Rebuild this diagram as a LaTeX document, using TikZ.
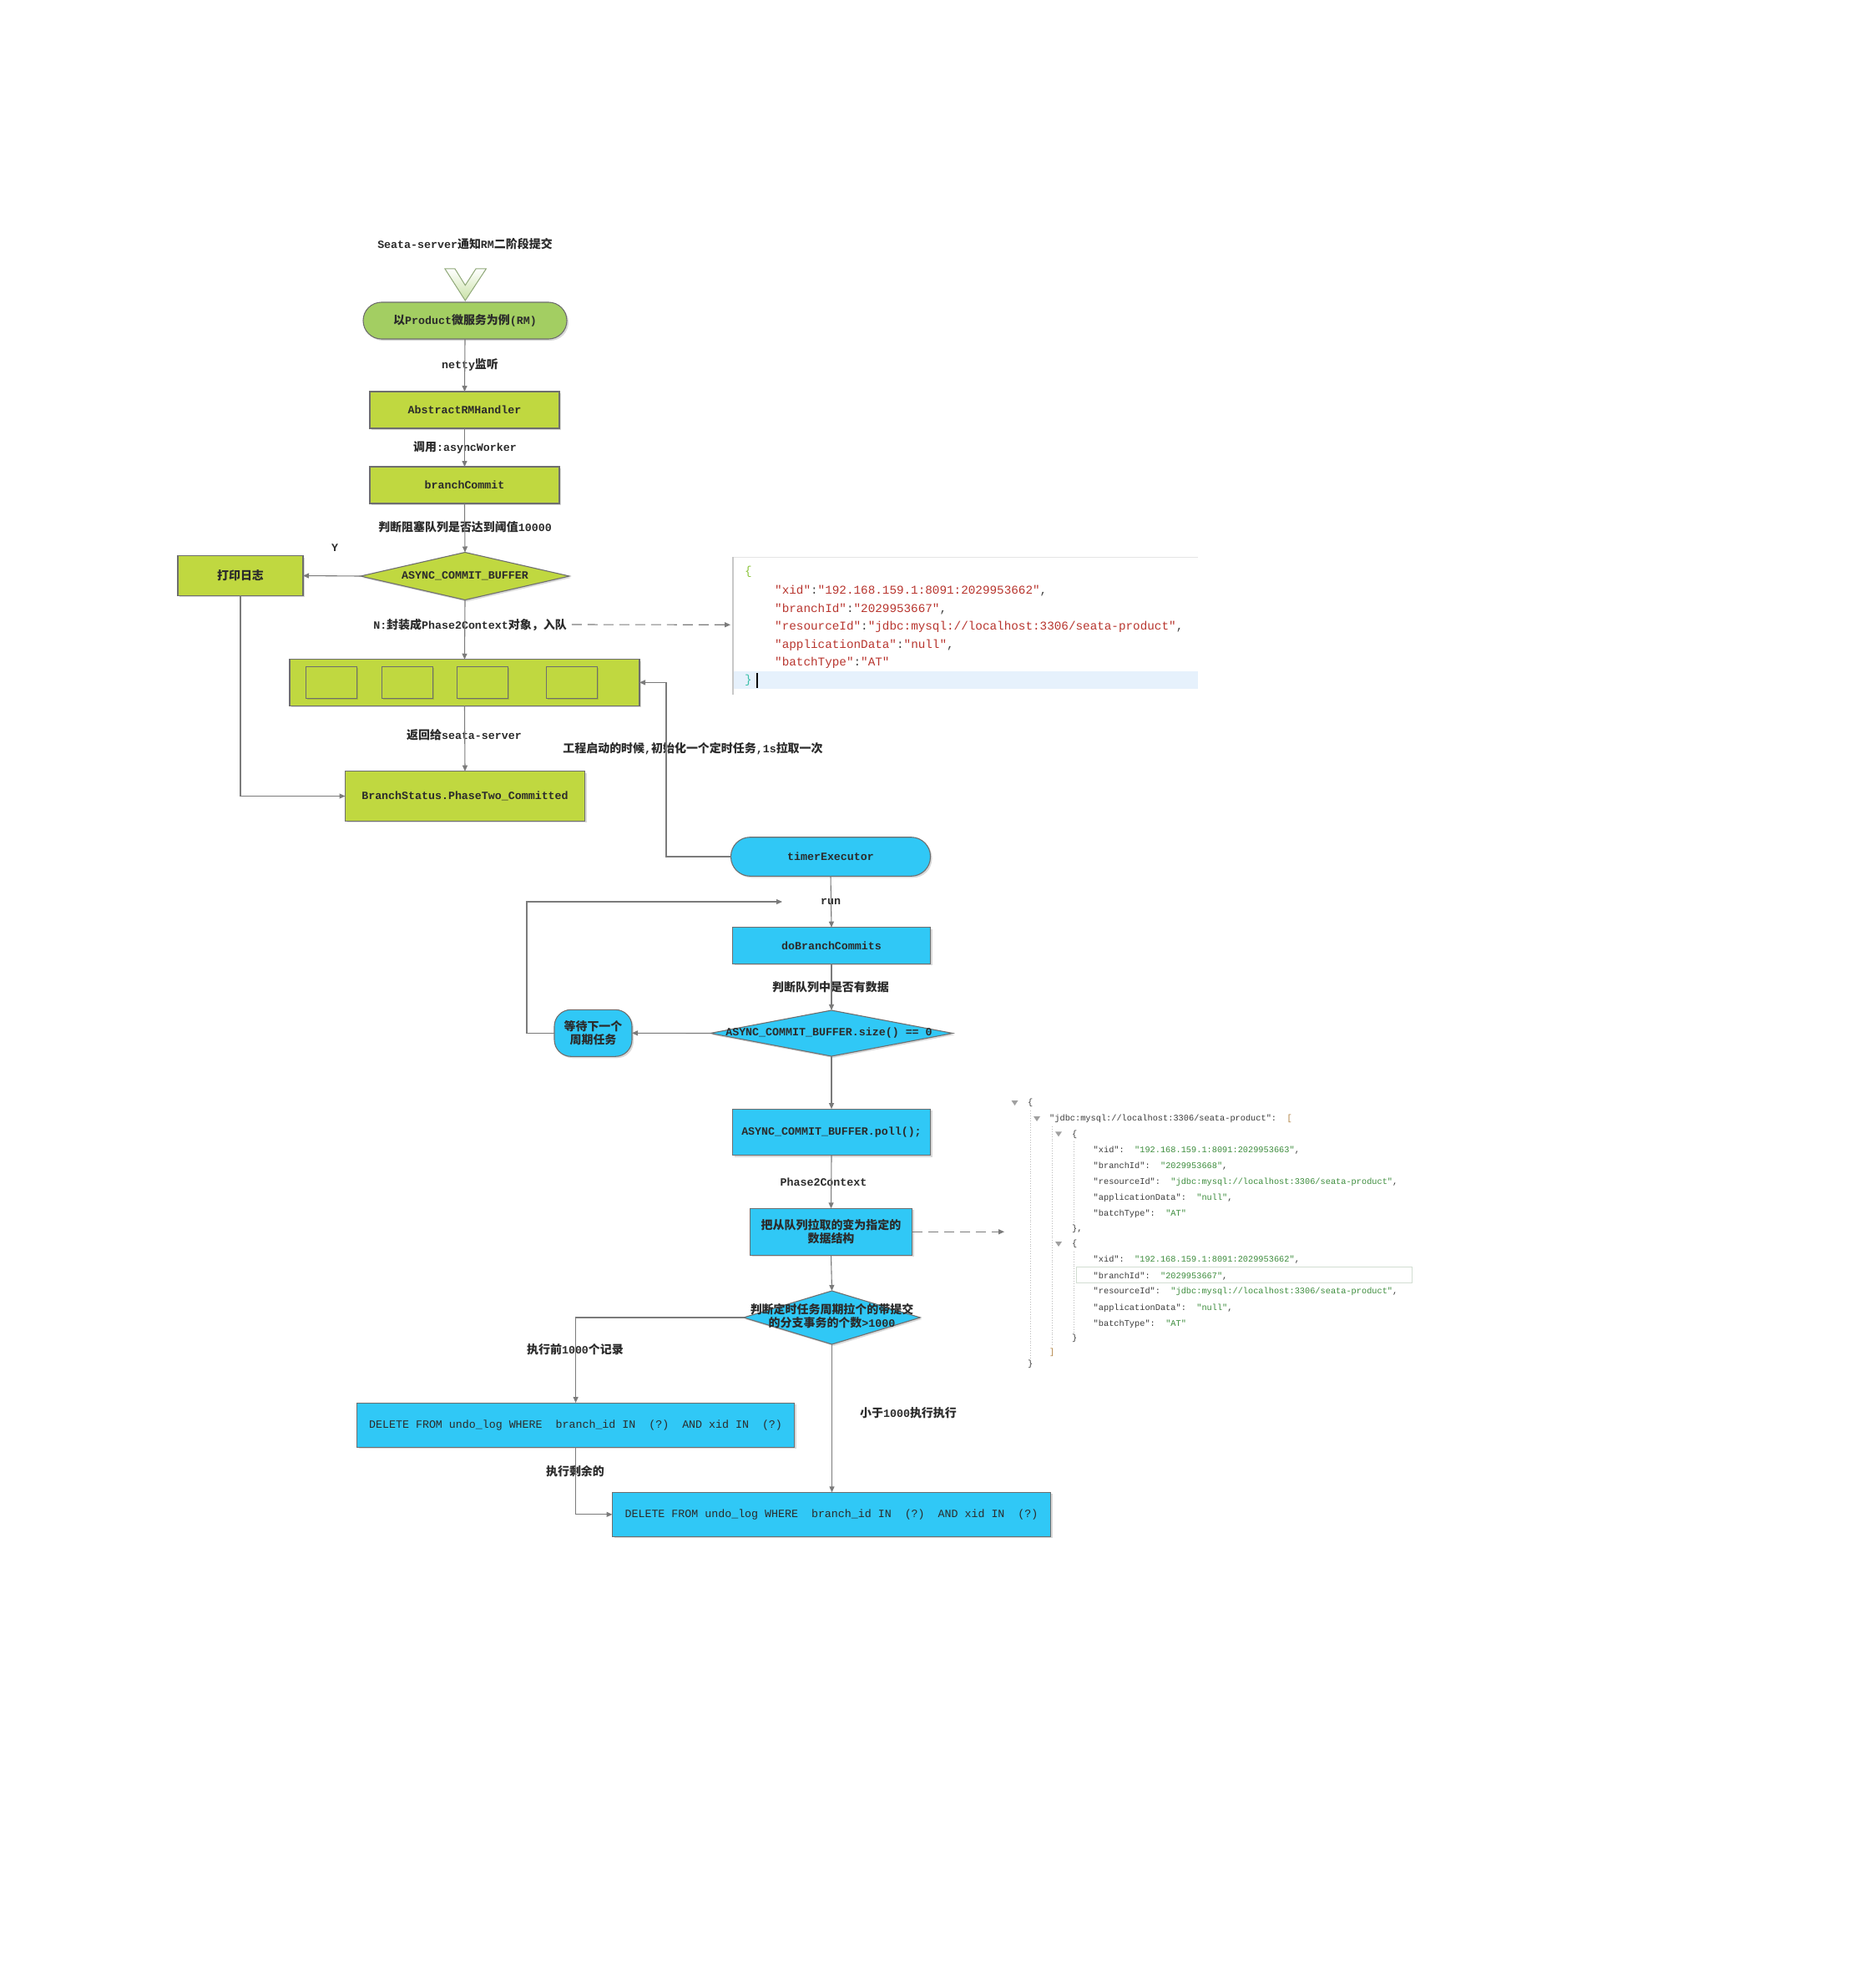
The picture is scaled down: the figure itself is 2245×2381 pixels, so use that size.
\documentclass[tikz,border=0pt]{standalone}
\usepackage{fontspec}
\setmainfont{Liberation Mono}
\newfontfamily\cjk{Noto Sans CJK SC}[Scale=1.05]
\newfontfamily\jsonfont{Liberation Mono}
\usetikzlibrary{arrows.meta,shapes.geometric,shadows}
\newcommand\zh[1]{{\cjk #1}}
\newcommand\lbl{\fontsize{13.3}{16}\selectfont\bfseries}
\definecolor{lgreen}{HTML}{C0D840}
\definecolor{tgreen}{HTML}{A3CE62}
\definecolor{cyanb}{HTML}{30C8F6}
\definecolor{bord}{HTML}{6E6E6E}
\definecolor{conncol}{HTML}{7B7B7B}
\definecolor{txt}{HTML}{2B2B2B}
\definecolor{chevb}{HTML}{8FA878}
\definecolor{chevg}{HTML}{C9E2A6}
\definecolor{jred}{HTML}{B8352E}
\definecolor{jpun}{HTML}{444444}
\definecolor{jbra}{HTML}{8CC43C}
\definecolor{jbrb}{HTML}{3CBFA8}
\definecolor{jhl}{HTML}{E6F1FC}
\definecolor{jline}{HTML}{E4E4E4}
\definecolor{jleft}{HTML}{C8C8C8}
\definecolor{jkey}{HTML}{3A3A3A}
\definecolor{jval}{HTML}{3C8C3C}
\definecolor{jbrk}{HTML}{B08040}
\definecolor{jtri}{HTML}{A0A0A0}
\definecolor{jguide}{HTML}{BBBBBB}
\definecolor{jhb}{HTML}{D2DED2}
\newcommand\jr[1]{\textcolor{jred}{#1}}
\newcommand\jp[1]{\textcolor{jpun}{#1}}
\newcommand\jk[1]{\textcolor{jkey}{#1}}
\newcommand\jv[1]{\textcolor{jval}{#1}}
\newcommand\jtri[2]{\fill[jtri] (#1-4,#2-3) -- (#1+4,#2-3) -- (#1,#2+3) -- cycle;}
\begin{document}
\begin{tikzpicture}[x=1pt,y=-1pt,
  box/.style={draw=bord, line width=1.1pt, outer sep=0pt, inner sep=0pt, text=txt, font=\lbl, align=center,
    drop shadow={shadow xshift=2pt, shadow yshift=-2pt, opacity=0.15, fill=black}},
  gbox/.style={box, fill=lgreen},
  bbox/.style={box, fill=cyanb},
  diam/.style={box, diamond},
  qsq/.style={draw=bord, line width=1pt, fill=lgreen, inner sep=0pt, outer sep=0pt, minimum width=61pt, minimum height=37.6pt,
    drop shadow={shadow xshift=1.5pt, shadow yshift=-1.5pt, opacity=0.12, fill=black}},
  lab/.style={text=txt, font=\lbl, inner sep=0pt, align=center},
  conn/.style={draw=conncol, line width=1.1pt, -{Triangle[length=7pt,width=6pt]}},
  dconn/.style={conn, dash pattern=on 12pt off 7pt},
  jt1/.style={anchor=west, inner sep=0pt, font=\fontsize{14.3}{17}\selectfont\jsonfont, text height=10pt, text depth=3pt},
  jt2/.style={anchor=west, inner sep=0pt, font=\fontsize{10.3}{12}\selectfont\jsonfont, text height=7.5pt, text depth=2pt},
  jg/.style={draw=jguide, dotted, line width=0.9pt}
]
\useasboundingbox (0,0) rectangle (2245,2381);
\fill[white] (0,0) rectangle (2245,2381);

% ---------- top part (green) ----------
\node[lab] (title) at (557,292) {Seata-server\zh{通知}RM\zh{二阶段提交}};
\path[draw=chevb, line width=1pt, top color=white, bottom color=chevg]
  (533,322) -- (545,322) -- (557.3,341.7) -- (570,322) -- (582.3,322) -- (557.3,360) -- cycle;

\node[box, fill=tgreen, rounded corners=22pt, minimum width=244pt, minimum height=44pt] (term) at (557,384)
  {\zh{以}Product\zh{微服务为例}(RM)};
\node[gbox, minimum width=227pt, minimum height=44pt] (arh) at (556.5,491) {AbstractRMHandler};
\node[gbox, minimum width=227pt, minimum height=44pt] (bc) at (556.5,581) {branchCommit};
\node[diam, fill=lgreen, minimum width=250pt, minimum height=57pt] (d1) at (557,690) {};
\node[lab] (d1t) at (d1) {ASYNC\_COMMIT\_BUFFER};
\node[gbox, minimum width=150pt, minimum height=47.6pt] (pl) at (288,689.5) {\zh{打印日志}};
\node[gbox, minimum width=419pt, minimum height=55.3pt] (queue) at (556.5,817.4) {};
\node[qsq] (q1) at (397.1,817.5) {};
\node[qsq] (q2) at (488,817.5) {};
\node[qsq] (q3) at (577.9,817.5) {};
\node[qsq] (q4) at (684.9,817.5) {};
\node[gbox, minimum width=287pt, minimum height=59.6pt] (bs) at (557,953.5) {BranchStatus.PhaseTwo\_Committed};

\node[lab] (l1) at (563,437) {netty\zh{监听}};
\node[lab] (l2) at (557,536) {\zh{调用}:asyncWorker};
\node[lab] (l3) at (557,631) {\zh{判断阻塞队列是否达到阈值}10000};
\node[lab] (ly) at (401,656) {Y};
\node[lab] (nlab) at (563,748) {N:\zh{封装成}Phase2Context\zh{对象，入队}};
\node[lab] (l4) at (556,880) {\zh{返回给}seata-server};
\node[lab] (l5) at (830,897) {\zh{工程启动的时候},\zh{初始化一个定时任务},1s\zh{拉取一次}};

\draw[conn] (term.south) -- (arh.north);
\draw[conn] (arh.south) -- (bc.north);
\draw[conn] (bc.south) -- (d1.north);
\draw[conn] (d1.west) -- (pl.east);
\draw[conn] (d1.south) -- (queue.north);
\draw[conn] (queue.south) -- (bs.north);
\draw[conn] (pl.south) |- (bs.west);

% ---------- JSON 1 ----------
\coordinate (j1in) at (875,748.3);
\fill[jhl] (879,804) rectangle (1435,825);
\draw[jline, line width=1pt] (878,667) -- (1435,667);
\draw[jleft, line width=1.4pt] (878,667) -- (878,832);
\node[jt1] (ja0) at (892,685) {\textcolor{jbra}{\{}};
\node[jt1] (ja1) at (928,708) {\jr{"xid"}\jp{:}\jr{"192.168.159.1:8091:2029953662"}\jp{,}};
\node[jt1] (ja2) at (928,729.5) {\jr{"branchId"}\jp{:}\jr{"2029953667"}\jp{,}};
\node[jt1] (ja3) at (928,751) {\jr{"resourceId"}\jp{:}\jr{"jdbc:mysql://localhost:3306/seata-product"}\jp{,}};
\node[jt1] (ja4) at (928,772.5) {\jr{"applicationData"}\jp{:}\jr{"null"}\jp{,}};
\node[jt1] (ja5) at (928,794) {\jr{"batchType"}\jp{:}\jr{"AT"}};
\node[jt1] (ja6) at (892,815) {\textcolor{jbrb}{\}}};
\draw[black, line width=1.2pt] (907,806) -- (907,824);
\draw[dconn] ([xshift=6pt]nlab.east) -- (j1in);

% ---------- bottom part (blue) ----------
\node[bbox, rounded corners=23pt, minimum width=239pt, minimum height=46.6pt] (timer) at (995,1026) {timerExecutor};
\node[bbox, minimum width=237pt, minimum height=43.6pt] (dbc) at (996,1132.5) {doBranchCommits};
\node[diam, fill=cyanb, minimum width=290pt, minimum height=55pt] (d2) at (996,1237.5) {};
\node[lab] (d2t) at (993,1237.5) {ASYNC\_COMMIT\_BUFFER.size() == 0};
\node[bbox, rounded corners=20pt, minimum width=93pt, minimum height=56pt] (wait) at (710.5,1237.3) {\zh{等待下一个}\\\zh{周期任务}};
\node[bbox, minimum width=237pt, minimum height=55.7pt] (poll) at (996,1356) {ASYNC\_COMMIT\_BUFFER.poll();};
\node[bbox, minimum width=194pt, minimum height=56pt] (conv) at (995.5,1475.3) {\zh{把从队列拉取的变为指定的}\\\zh{数据结构}};
\node[diam, fill=cyanb, minimum width=211.6pt, minimum height=64pt] (d3) at (996.5,1578) {};
\node[lab] (d3t) at (996.5,1576) {\zh{判断定时任务周期拉个的带提交}\\\zh{的分支事务的个数}>1000};
\node[bbox, font=\fontsize{13.3}{16}\selectfont, minimum width=524pt, minimum height=53.3pt] (del1) at (689.6,1706.7)
  {DELETE FROM undo\_log WHERE~~branch\_id IN~~(?)~~AND xid IN~~(?)};
\node[bbox, font=\fontsize{13.3}{16}\selectfont, minimum width=525pt, minimum height=53pt] (del2) at (996,1813.8)
  {DELETE FROM undo\_log WHERE~~branch\_id IN~~(?)~~AND xid IN~~(?)};

\node[lab] (lrun) at (995,1080) {run};
\node[lab] (l6) at (995,1182) {\zh{判断队列中是否有数据}};
\node[lab] (l7) at (986.5,1416) {Phase2Context};
\node[lab] (l8) at (689,1616) {\zh{执行前}1000\zh{个记录}};
\node[lab] (l9) at (1088,1692) {\zh{小于}1000\zh{执行执行}};
\node[lab] (l10) at (689,1762) {\zh{执行剩余的}};

\coordinate (tq) at (798,1026);
\coordinate (lp1) at (631,1237.3);
\coordinate (lpend) at (937,1080);
\coordinate (j2in) at (1203,1475.3);
\draw[conn] (timer.west) -- (tq) |- (queue.east);
\draw[conn] (timer.south) -- (dbc.north);
\draw[conn] (dbc.south) -- (d2.north);
\draw[conn] (d2.west) -- (wait.east);
\draw[conn] (wait.west) -- (lp1) |- (lpend);
\draw[conn] (d2.south) -- (poll.north);
\draw[conn] (poll.south) -- (conv.north);
\draw[conn] (conv.south) -- (d3.north);
\draw[conn] (d3.west) -| (del1.north);
\draw[conn] (d3.south) -- (d3.south |- del2.north);
\draw[conn] (del1.south) |- (del2.west);
\draw[dconn] (conv.east) -- (j2in);

% ---------- JSON 2 ----------
\jtri{1215.5}{1321}
\jtri{1242}{1340}
\jtri{1268}{1358.3}
\jtri{1268}{1490}
\draw[jg] (1234,1330) -- (1234,1628);
\draw[jg] (1260,1349) -- (1260,1612);
\draw[jg] (1286.5,1367) -- (1286.5,1465);
\draw[jg] (1286.5,1499) -- (1286.5,1596);
\draw[jhb, line width=1pt] (1289,1517.3) rectangle (1691,1536.7);
\node[jt2] (jb0) at (1231,1321) {\jk{\{}};
\node[jt2] (jb1) at (1257,1340) {\jk{"jdbc:mysql://localhost:3306/seata-product":}~~\textcolor{jbrk}{[}};
\node[jt2] (jb2) at (1284,1358.3) {\jk{\{}};
\node[jt2] (jb3) at (1309.5,1377.7) {\jk{"xid":}~~\jv{"192.168.159.1:8091:2029953663"}\jk{,}};
\node[jt2] (jb4) at (1309.5,1396.7) {\jk{"branchId":}~~\jv{"2029953668"}\jk{,}};
\node[jt2] (jb5) at (1309.5,1416) {\jk{"resourceId":}~~\jv{"jdbc:mysql://localhost:3306/seata-product"}\jk{,}};
\node[jt2] (jb6) at (1309.5,1435) {\jk{"applicationData":}~~\jv{"null"}\jk{,}};
\node[jt2] (jb7) at (1309.5,1454) {\jk{"batchType":}~~\jv{"AT"}};
\node[jt2] (jb8) at (1284,1471.7) {\jk{\},}};
\node[jt2] (jb9) at (1284,1490) {\jk{\{}};
\node[jt2] (jb10) at (1309.5,1509) {\jk{"xid":}~~\jv{"192.168.159.1:8091:2029953662"}\jk{,}};
\node[jt2] (jb11) at (1309.5,1528.3) {\jk{"branchId":}~~\jv{"2029953667"}\jk{,}};
\node[jt2] (jb12) at (1309.5,1547) {\jk{"resourceId":}~~\jv{"jdbc:mysql://localhost:3306/seata-product"}\jk{,}};
\node[jt2] (jb13) at (1309.5,1566.7) {\jk{"applicationData":}~~\jv{"null"}\jk{,}};
\node[jt2] (jb14) at (1309.5,1585.3) {\jk{"batchType":}~~\jv{"AT"}};
\node[jt2] (jb15) at (1284,1602.3) {\jk{\}}};
\node[jt2] (jb16) at (1257,1619.3) {\textcolor{jbrk}{]}};
\node[jt2] (jb17) at (1231,1634) {\jk{\}}};
\end{tikzpicture}
\end{document}
